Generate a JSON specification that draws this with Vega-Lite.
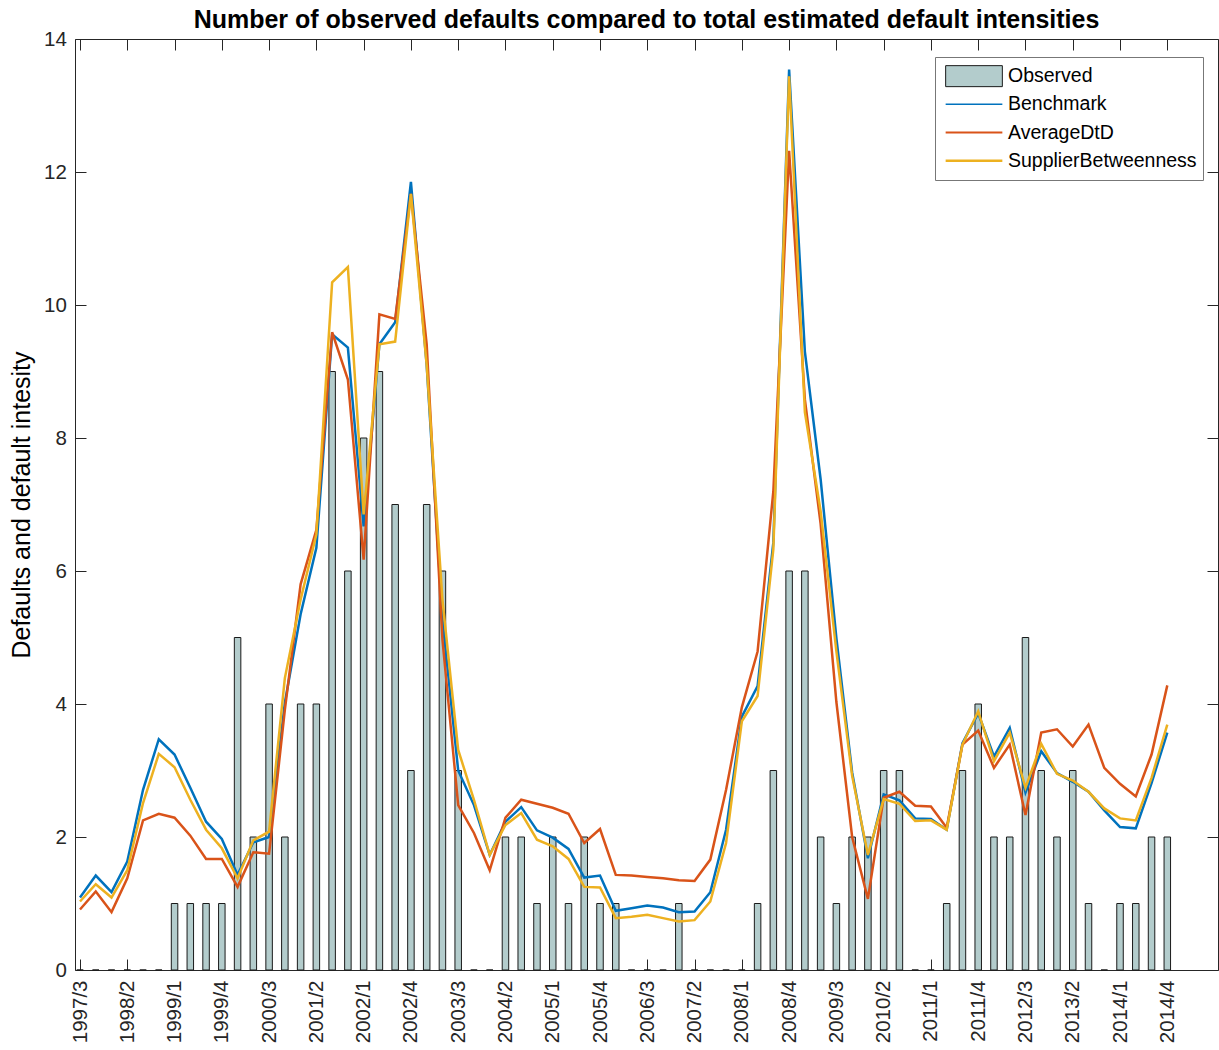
{
  "$schema": "https://vega.github.io/schema/vega-lite/v6.json",
  "width": 1143,
  "height": 931,
  "autosize": {"type": "none"},
  "padding": {"left": 75, "top": 39, "right": 1, "bottom": 80},
  "background": "white",
  "config": {"view": {"stroke": null}, "font": "Liberation Sans"},
  "title": {"text": "Number of observed defaults compared to total estimated default intensities", "fontSize": 25, "fontWeight": "bold", "font": "Liberation Sans", "color": "#000000", "anchor": "middle", "offset": 5, "dy": 9},
  "data": {"values": [
    {"q":1,"Observed":0,"Benchmark":1.09,"AverageDtD":0.91,"SupplierBetweenness":1.03},
    {"q":2,"Observed":0,"Benchmark":1.42,"AverageDtD":1.18,"SupplierBetweenness":1.29},
    {"q":3,"Observed":0,"Benchmark":1.17,"AverageDtD":0.87,"SupplierBetweenness":1.09},
    {"q":4,"Observed":0,"Benchmark":1.63,"AverageDtD":1.38,"SupplierBetweenness":1.50},
    {"q":5,"Observed":0,"Benchmark":2.71,"AverageDtD":2.25,"SupplierBetweenness":2.51},
    {"q":6,"Observed":0,"Benchmark":3.47,"AverageDtD":2.35,"SupplierBetweenness":3.25},
    {"q":7,"Observed":1,"Benchmark":3.24,"AverageDtD":2.29,"SupplierBetweenness":3.05},
    {"q":8,"Observed":1,"Benchmark":2.74,"AverageDtD":2.02,"SupplierBetweenness":2.56},
    {"q":9,"Observed":1,"Benchmark":2.23,"AverageDtD":1.67,"SupplierBetweenness":2.11},
    {"q":10,"Observed":1,"Benchmark":1.97,"AverageDtD":1.67,"SupplierBetweenness":1.83},
    {"q":11,"Observed":5,"Benchmark":1.43,"AverageDtD":1.25,"SupplierBetweenness":1.38},
    {"q":12,"Observed":2,"Benchmark":1.92,"AverageDtD":1.77,"SupplierBetweenness":1.95},
    {"q":13,"Observed":4,"Benchmark":2.00,"AverageDtD":1.75,"SupplierBetweenness":2.08},
    {"q":14,"Observed":2,"Benchmark":4.02,"AverageDtD":3.91,"SupplierBetweenness":4.39},
    {"q":15,"Observed":4,"Benchmark":5.35,"AverageDtD":5.80,"SupplierBetweenness":5.57},
    {"q":16,"Observed":4,"Benchmark":6.35,"AverageDtD":6.62,"SupplierBetweenness":6.55},
    {"q":17,"Observed":9,"Benchmark":9.56,"AverageDtD":9.59,"SupplierBetweenness":10.34},
    {"q":18,"Observed":6,"Benchmark":9.36,"AverageDtD":8.88,"SupplierBetweenness":10.57},
    {"q":19,"Observed":8,"Benchmark":6.67,"AverageDtD":6.17,"SupplierBetweenness":6.85},
    {"q":20,"Observed":9,"Benchmark":9.41,"AverageDtD":9.86,"SupplierBetweenness":9.41},
    {"q":21,"Observed":7,"Benchmark":9.74,"AverageDtD":9.79,"SupplierBetweenness":9.45},
    {"q":22,"Observed":3,"Benchmark":11.85,"AverageDtD":11.67,"SupplierBetweenness":11.67},
    {"q":23,"Observed":7,"Benchmark":9.10,"AverageDtD":9.41,"SupplierBetweenness":9.10},
    {"q":24,"Observed":6,"Benchmark":5.27,"AverageDtD":4.97,"SupplierBetweenness":5.57},
    {"q":25,"Observed":3,"Benchmark":3.00,"AverageDtD":2.48,"SupplierBetweenness":3.31},
    {"q":26,"Observed":0,"Benchmark":2.48,"AverageDtD":2.06,"SupplierBetweenness":2.56},
    {"q":27,"Observed":0,"Benchmark":1.73,"AverageDtD":1.50,"SupplierBetweenness":1.73},
    {"q":28,"Observed":2,"Benchmark":2.23,"AverageDtD":2.29,"SupplierBetweenness":2.18},
    {"q":29,"Observed":2,"Benchmark":2.45,"AverageDtD":2.56,"SupplierBetweenness":2.36},
    {"q":30,"Observed":1,"Benchmark":2.10,"AverageDtD":2.50,"SupplierBetweenness":1.96},
    {"q":31,"Observed":2,"Benchmark":1.99,"AverageDtD":2.44,"SupplierBetweenness":1.86},
    {"q":32,"Observed":1,"Benchmark":1.82,"AverageDtD":2.35,"SupplierBetweenness":1.67},
    {"q":33,"Observed":2,"Benchmark":1.39,"AverageDtD":1.91,"SupplierBetweenness":1.25},
    {"q":34,"Observed":1,"Benchmark":1.42,"AverageDtD":2.12,"SupplierBetweenness":1.24},
    {"q":35,"Observed":1,"Benchmark":0.89,"AverageDtD":1.43,"SupplierBetweenness":0.78},
    {"q":36,"Observed":0,"Benchmark":0.93,"AverageDtD":1.42,"SupplierBetweenness":0.80},
    {"q":37,"Observed":0,"Benchmark":0.97,"AverageDtD":1.40,"SupplierBetweenness":0.83},
    {"q":38,"Observed":0,"Benchmark":0.94,"AverageDtD":1.38,"SupplierBetweenness":0.78},
    {"q":39,"Observed":1,"Benchmark":0.87,"AverageDtD":1.35,"SupplierBetweenness":0.73},
    {"q":40,"Observed":0,"Benchmark":0.88,"AverageDtD":1.34,"SupplierBetweenness":0.75},
    {"q":41,"Observed":0,"Benchmark":1.17,"AverageDtD":1.66,"SupplierBetweenness":1.03},
    {"q":42,"Observed":0,"Benchmark":2.11,"AverageDtD":2.71,"SupplierBetweenness":1.91},
    {"q":43,"Observed":0,"Benchmark":3.81,"AverageDtD":3.95,"SupplierBetweenness":3.74},
    {"q":44,"Observed":1,"Benchmark":4.27,"AverageDtD":4.79,"SupplierBetweenness":4.12},
    {"q":45,"Observed":3,"Benchmark":6.43,"AverageDtD":7.20,"SupplierBetweenness":6.33},
    {"q":46,"Observed":6,"Benchmark":13.54,"AverageDtD":12.32,"SupplierBetweenness":13.44},
    {"q":47,"Observed":6,"Benchmark":9.30,"AverageDtD":8.58,"SupplierBetweenness":8.39},
    {"q":48,"Observed":2,"Benchmark":7.38,"AverageDtD":6.71,"SupplierBetweenness":6.90},
    {"q":49,"Observed":1,"Benchmark":4.99,"AverageDtD":4.03,"SupplierBetweenness":4.79},
    {"q":50,"Observed":2,"Benchmark":2.97,"AverageDtD":2.00,"SupplierBetweenness":2.92},
    {"q":51,"Observed":2,"Benchmark":1.68,"AverageDtD":1.07,"SupplierBetweenness":1.73},
    {"q":52,"Observed":3,"Benchmark":2.64,"AverageDtD":2.59,"SupplierBetweenness":2.57},
    {"q":53,"Observed":3,"Benchmark":2.55,"AverageDtD":2.68,"SupplierBetweenness":2.50},
    {"q":54,"Observed":0,"Benchmark":2.28,"AverageDtD":2.47,"SupplierBetweenness":2.24},
    {"q":55,"Observed":0,"Benchmark":2.27,"AverageDtD":2.46,"SupplierBetweenness":2.25},
    {"q":56,"Observed":1,"Benchmark":2.11,"AverageDtD":2.14,"SupplierBetweenness":2.11},
    {"q":57,"Observed":3,"Benchmark":3.41,"AverageDtD":3.39,"SupplierBetweenness":3.39},
    {"q":58,"Observed":4,"Benchmark":3.86,"AverageDtD":3.60,"SupplierBetweenness":3.89},
    {"q":59,"Observed":2,"Benchmark":3.21,"AverageDtD":3.04,"SupplierBetweenness":3.14},
    {"q":60,"Observed":2,"Benchmark":3.64,"AverageDtD":3.39,"SupplierBetweenness":3.57},
    {"q":61,"Observed":5,"Benchmark":2.67,"AverageDtD":2.33,"SupplierBetweenness":2.74},
    {"q":62,"Observed":3,"Benchmark":3.29,"AverageDtD":3.57,"SupplierBetweenness":3.40},
    {"q":63,"Observed":2,"Benchmark":2.96,"AverageDtD":3.62,"SupplierBetweenness":2.95},
    {"q":64,"Observed":3,"Benchmark":2.83,"AverageDtD":3.36,"SupplierBetweenness":2.85},
    {"q":65,"Observed":1,"Benchmark":2.68,"AverageDtD":3.69,"SupplierBetweenness":2.68},
    {"q":66,"Observed":0,"Benchmark":2.40,"AverageDtD":3.04,"SupplierBetweenness":2.43},
    {"q":67,"Observed":1,"Benchmark":2.15,"AverageDtD":2.80,"SupplierBetweenness":2.28},
    {"q":68,"Observed":1,"Benchmark":2.13,"AverageDtD":2.61,"SupplierBetweenness":2.25},
    {"q":69,"Observed":2,"Benchmark":2.81,"AverageDtD":3.24,"SupplierBetweenness":2.89},
    {"q":70,"Observed":2,"Benchmark":3.57,"AverageDtD":4.28,"SupplierBetweenness":3.69}
  ]},
  "layer": [
    {
      "transform": [{"fold": ["Observed"], "as": ["series", "value"]}],
      "mark": {"type": "bar", "orient": "vertical", "size": 6.5, "fill": "#b3cccc", "stroke": "#1a1a1a", "strokeWidth": 1, "opacity": 1},
      "encoding": {
        "x": {"field": "q", "type": "quantitative",
          "scale": {"domain": [1, 72.9], "nice": false, "zero": false},
          "axis": {"orient": "bottom", "title": null, "grid": false,
            "values": [1,4,7,10,13,16,19,22,25,28,31,34,37,40,43,46,49,52,55,58,61,64,67,70],
            "labelExpr": "(floor((datum.value+1)/4)+1997) + '/' + ((datum.value+1)%4+1)",
            "labelAngle": -90, "labelFontSize": 20.5, "labelColor": "#262626", "labelFont": "Liberation Sans",
            "tickSize": -11, "tickColor": "#262626", "domainColor": "#262626", "labelPadding": 21, "labelOverlap": false}},
        "y": {"field": "value", "type": "quantitative",
          "scale": {"domain": [0, 14], "nice": false},
          "stack": null,
          "axis": {"orient": "left", "title": "Defaults and default intesity", "titleFontSize": 25, "titleFontWeight": "normal", "titleColor": "#000000", "titleFont": "Liberation Sans", "titlePadding": 9,
            "grid": false, "values": [0,2,4,6,8,10,12,14], "labelFontSize": 20.5, "labelColor": "#262626", "labelFont": "Liberation Sans",
            "tickSize": -11, "tickColor": "#262626", "domainColor": "#262626", "labelPadding": 19.6}}
      }
    },
    {
      "transform": [{"fold": ["Benchmark", "AverageDtD", "SupplierBetweenness"], "as": ["series", "value"]}],
      "mark": {"type": "line", "strokeWidth": 2.5},
      "encoding": {
        "x": {"field": "q", "type": "quantitative",
          "axis": {"orient": "top", "title": null, "grid": false, "labels": false,
            "values": [1,4,7,10,13,16,19,22,25,28,31,34,37,40,43,46,49,52,55,58,61,64,67,70],
            "tickSize": -11, "tickColor": "#262626", "domainColor": "#262626"}},
        "y": {"field": "value", "type": "quantitative",
          "axis": {"orient": "right", "title": null, "grid": false, "labels": false,
            "values": [0,2,4,6,8,10,12,14],
            "tickSize": -11, "tickColor": "#262626", "domainColor": "#262626"}},
        "color": {"field": "series", "type": "nominal",
          "scale": {"domain": ["Benchmark", "AverageDtD", "SupplierBetweenness"], "range": ["#0072BD", "#D95319", "#EDB120"]},
          "legend": null}
      }
    },
    {
      "transform": [{"fold": ["Observed", "Benchmark", "AverageDtD", "SupplierBetweenness"], "as": ["series", "value"]}],
      "mark": {"type": "point", "opacity": 0, "filled": false},
      "encoding": {
        "x": {"field": "q", "type": "quantitative", "axis": null},
        "y": {"field": "value", "type": "quantitative", "axis": null},
        "shape": {"field": "series", "type": "nominal",
          "scale": {"domain": ["Observed", "Benchmark", "AverageDtD", "SupplierBetweenness"], "range": ["M-0.7,-1H4.7V1H-0.7Z", "M-0.7,0H4.7", "M-0.7,0H4.7", "M-0.7,0H4.7"]},
          "legend": {"title": null, "orient": "none", "legendX": 860, "legendY": 18, "symbolSize": 441, "symbolOpacity": 1, "clipHeight": 26.3,
            "labelFontSize": 19.5, "labelFont": "Liberation Sans", "labelColor": "#000000", "labelOffset": 43, "labelLimit": 0,
            "rowPadding": 1.2, "padding": 6, "strokeColor": "#777777", "fillColor": "#ffffff"}},
        "fill": {"field": "series", "type": "nominal",
          "scale": {"domain": ["Observed", "Benchmark", "AverageDtD", "SupplierBetweenness"], "range": ["#b3cccc", "transparent", "transparent", "transparent"]},
          "legend": {"title": null, "orient": "none", "legendX": 860, "legendY": 18, "symbolSize": 441, "symbolOpacity": 1, "clipHeight": 26.3,
            "labelFontSize": 19.5, "labelFont": "Liberation Sans", "labelColor": "#000000", "labelOffset": 43, "labelLimit": 0,
            "rowPadding": 1.2, "padding": 6, "strokeColor": "#777777", "fillColor": "#ffffff"}},
        "stroke": {"field": "series", "type": "nominal",
          "scale": {"domain": ["Observed", "Benchmark", "AverageDtD", "SupplierBetweenness"], "range": ["#1a1a1a", "#0072BD", "#D95319", "#EDB120"]},
          "legend": {"title": null, "orient": "none", "legendX": 860, "legendY": 18, "symbolSize": 441, "symbolOpacity": 1, "clipHeight": 26.3,
            "labelFontSize": 19.5, "labelFont": "Liberation Sans", "labelColor": "#000000", "labelOffset": 43, "labelLimit": 0,
            "rowPadding": 1.2, "padding": 6, "strokeColor": "#777777", "fillColor": "#ffffff"}},
        "strokeWidth": {"field": "series", "type": "ordinal",
          "scale": {"domain": ["Observed", "Benchmark", "AverageDtD", "SupplierBetweenness"], "range": [1, 2.5, 2.5, 2.5]},
          "legend": {"title": null, "orient": "none", "legendX": 860, "legendY": 18, "symbolSize": 441, "symbolOpacity": 1, "clipHeight": 26.3,
            "labelFontSize": 19.5, "labelFont": "Liberation Sans", "labelColor": "#000000", "labelOffset": 43, "labelLimit": 0,
            "rowPadding": 1.2, "padding": 6, "strokeColor": "#777777", "fillColor": "#ffffff"}}
      }
    }
  ]
}
